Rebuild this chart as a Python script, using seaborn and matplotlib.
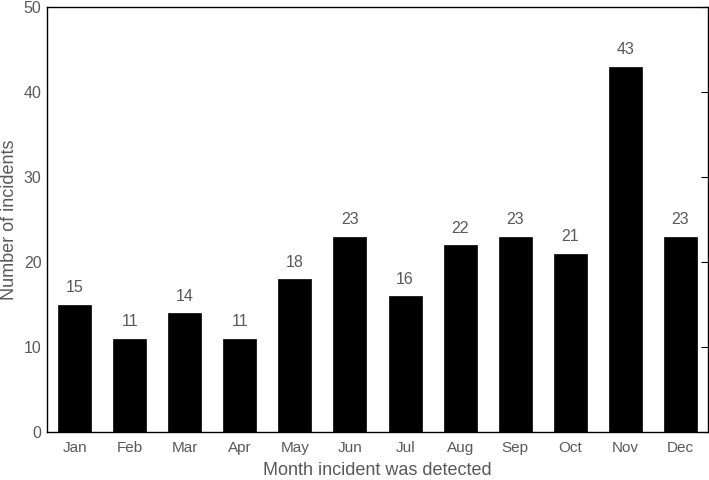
import matplotlib
matplotlib.use("Agg")
import matplotlib.pyplot as plt
import seaborn as sns
import pandas as pd

months = ["Jan", "Feb", "Mar", "Apr", "May", "Jun", "Jul", "Aug", "Sep", "Oct", "Nov", "Dec"]
incidents = [15, 11, 14, 11, 18, 23, 16, 22, 23, 21, 43, 23]
yticks = [0, 10, 20, 30, 40, 50]

sns.set_theme(style="white")
plt.rcParams['font.family'] = ['Liberation Sans', 'DejaVu Sans']
gray = "#595959"

df = pd.DataFrame({"month": months, "count": incidents})

fig = plt.figure(figsize=(7.09, 4.8), dpi=100)
ax = fig.add_axes([47/709, 1 - 432/480, (708 - 47)/709, (432 - 7)/480])
sns.barplot(data=df, x="month", y="count", color="black", width=0.6,
            saturation=1, ax=ax, edgecolor="black", linewidth=0.5)

for i, v in enumerate(incidents):
    ax.text(i, v + 1.1, str(v), ha="center", va="bottom", fontsize=11.5, color=gray)

ax.set_xlim(-0.5, len(months) - 0.5)
ax.set_ylim(0, 50)
ax.set_yticks(yticks)
ax.set_yticklabels([str(t) for t in yticks])
for s in ax.spines.values():
    s.set_visible(True)
    s.set_color("black")
    s.set_linewidth(1.0)

ax.tick_params(axis="y", which="both", left=False, right=True, labelleft=True,
               labelright=False, direction="in", length=5, width=0.8, color="black",
               labelsize=11.5, labelcolor=gray, pad=4)
ax.tick_params(axis="x", bottom=False, direction="in", length=0,
               labelsize=11, labelcolor=gray, pad=6.5)
ax.set_xlabel("Month incident was detected", fontsize=13, color=gray, labelpad=5)
ax.set_ylabel("Number of incidents", fontsize=13, color=gray, labelpad=4)

fig.savefig("out.png", dpi=100)
